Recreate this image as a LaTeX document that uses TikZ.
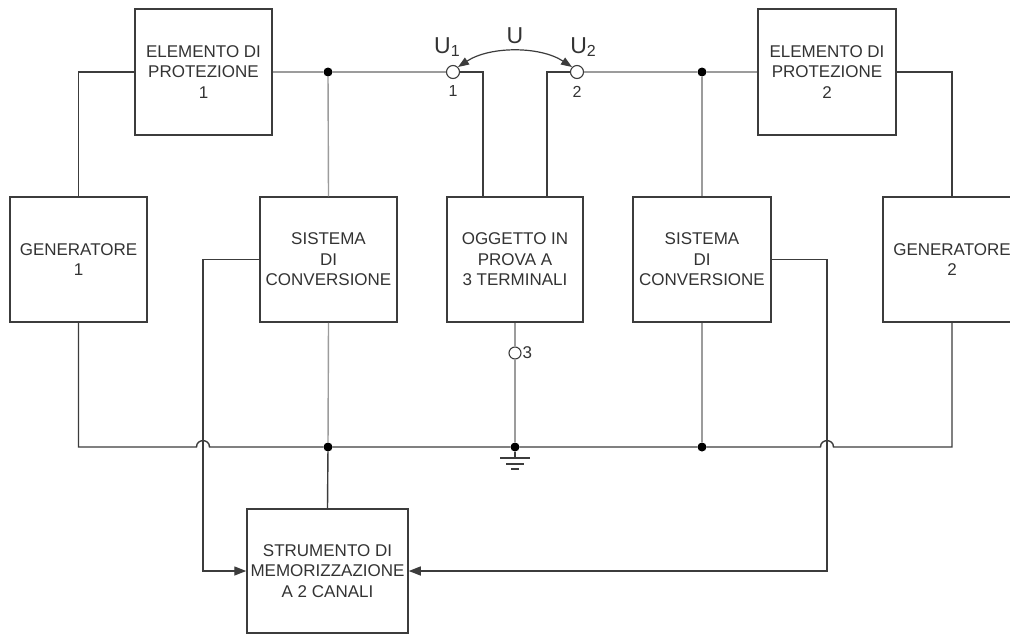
\documentclass[tikz,border=0pt]{standalone}
\usepackage{fontspec}
\setmainfont{Liberation Sans}
\usetikzlibrary{arrows.meta,calc}
\definecolor{ink}{HTML}{333333}
\definecolor{wire}{HTML}{3C3C3C}
\definecolor{lite}{HTML}{9C9C9C}
\begin{document}
\begin{tikzpicture}[x=1pt,y=-1pt,
  box/.style={draw=wire,line width=1.5pt,fill=white,inner sep=0pt,align=center,text=ink,
    font=\fontsize{17}{20.5}\selectfont},
  wd/.style={draw=wire,line width=1.4pt},
  wl/.style={draw=lite,line width=1.4pt},
  junc/.style={circle,fill=black,inner sep=0pt,minimum size=9pt},
  term/.style={circle,draw=wire,fill=white,line width=1.1pt,inner sep=0pt,minimum size=13pt},
  lbl/.style={text=ink,inner sep=0pt},
  sig/.style={wd,-{Triangle[length=12pt,width=9pt]}},
  uarr/.style={draw=wire,line width=1.2pt,{Triangle[length=11pt,width=8pt]}-{Triangle[length=11pt,width=8pt]}}
]
\useasboundingbox (0,0) rectangle (1010,635);
\fill[white] (0,0) rectangle (1010,635);

% boxes
\node[box,minimum width=137pt,minimum height=126pt] (e1) at (203.5,72) {ELEMENTO DI\\PROTEZIONE\\1};
\node[box,minimum width=138pt,minimum height=126pt] (e2) at (827,72) {ELEMENTO DI\\PROTEZIONE\\2};
\node[box,minimum width=137pt,minimum height=125pt] (g1) at (78.5,259.5) {GENERATORE\\1};
\node[box,minimum width=137pt,minimum height=125pt] (s1) at (328.5,259.5) {SISTEMA\\DI\\CONVERSIONE};
\node[box,minimum width=136pt,minimum height=125pt] (ogg) at (515,259.5) {OGGETTO IN\\PROVA A\\3 TERMINALI};
\node[box,minimum width=138pt,minimum height=125pt] (s2) at (702,259.5) {SISTEMA\\DI\\CONVERSIONE};
\node[box,minimum width=138pt,minimum height=125pt] (g2) at (952,259.5) {GENERATORE\\2};
\node[box,minimum width=161pt,minimum height=124pt] (st) at (327.5,571) {STRUMENTO DI\\MEMORIZZAZIONE\\A 2 CANALI};

% junctions and terminals
\node[junc] (d1) at (328,72) {};
\node[junc] (d2) at (702,72) {};
\node[junc] (d3) at (328,447) {};
\node[junc] (d4) at (515,447) {};
\node[junc] (d5) at (702,447) {};
\node[term] (t1) at (453,72) {};
\node[term] (t2) at (577,72) {};
\node[term,minimum size=12pt] (t3) at (515,353) {};
\coordinate (h1) at (203,447);
\coordinate (h2) at (827,447);
\coordinate (k1) at (203,571);
\coordinate (k2) at (827,571);
\coordinate (gnd) at (515,458);

% top wiring
\draw[wd] (e1.west) -| (g1.north);
\draw[wl] (e1.east) -- (d1);
\draw[wl] (d1) -- (t1.west);
\draw[wl] (d1) -- (s1.north);
\draw[wd] (t1.east) -| ([xshift=-32pt]ogg.north);
\draw[wd] (t2.west) -| ([xshift=32pt]ogg.north);
\draw[wl] (t2.east) -- (d2);
\draw[wl] (d2) -- (e2.west);
\draw[wl] (d2) -- (s2.north);
\draw[wd] (e2.east) -| (g2.north);

% bus
\draw[wd] (g1.south) |- ($(h1)+(-6.5,0)$) .. controls ($(h1)+(-6.5,-8.5)$) and ($(h1)+(6.5,-8.5)$) .. ($(h1)+(6.5,0)$)
  -- (d3) -- (d4) -- (d5) -- ($(h2)+(-6.5,0)$) .. controls ($(h2)+(-6.5,-8.5)$) and ($(h2)+(6.5,-8.5)$) .. ($(h2)+(6.5,0)$) -| (g2.south);
\draw[wl] (s1.south) -- (d3);
\draw[wd] (d3) -- (st.north);
\draw[wl] (s2.south) -- (d5);
\draw[wl] (ogg.south) -- (t3);
\draw[wl] (t3) -- (d4);

% ground
\draw[wd] (d4) -- (gnd);
\draw[wd] ($(gnd)+(-15,0)$) -- ($(gnd)+(15,0)$);
\draw[wd] ($(gnd)+(-9,6)$) -- ($(gnd)+(9,6)$);
\draw[wd] ($(gnd)+(-4,11)$) -- ($(gnd)+(4,11)$);

% signal lines
\draw[sig] (s1.west) -| (k1) -- (st.west);
\draw[sig] (s2.east) -| (k2) -- (st.east);

% voltage arc
\draw[uarr] (t1.north east) .. controls (490,46) and (540,46) .. (t2.north west);

% labels
\node[lbl,font=\fontsize{23}{23}\selectfont] (lu) at (515,36) {U};
\node[lbl,font=\fontsize{23}{23}\selectfont] (lu1) at (447,47) {U\raisebox{-3pt}{\fontsize{16}{16}\selectfont 1}};
\node[lbl,font=\fontsize{23}{23}\selectfont] (lu2) at (583,47) {U\raisebox{-3pt}{\fontsize{16}{16}\selectfont 2}};
\node[lbl,font=\fontsize{16}{16}\selectfont] (n1) at (453,91) {1};
\node[lbl,font=\fontsize{16}{16}\selectfont] (n2) at (577,92) {2};
\node[lbl,font=\fontsize{17}{17}\selectfont,anchor=west] (n3) at (522.5,353) {3};
\end{tikzpicture}
\end{document}
